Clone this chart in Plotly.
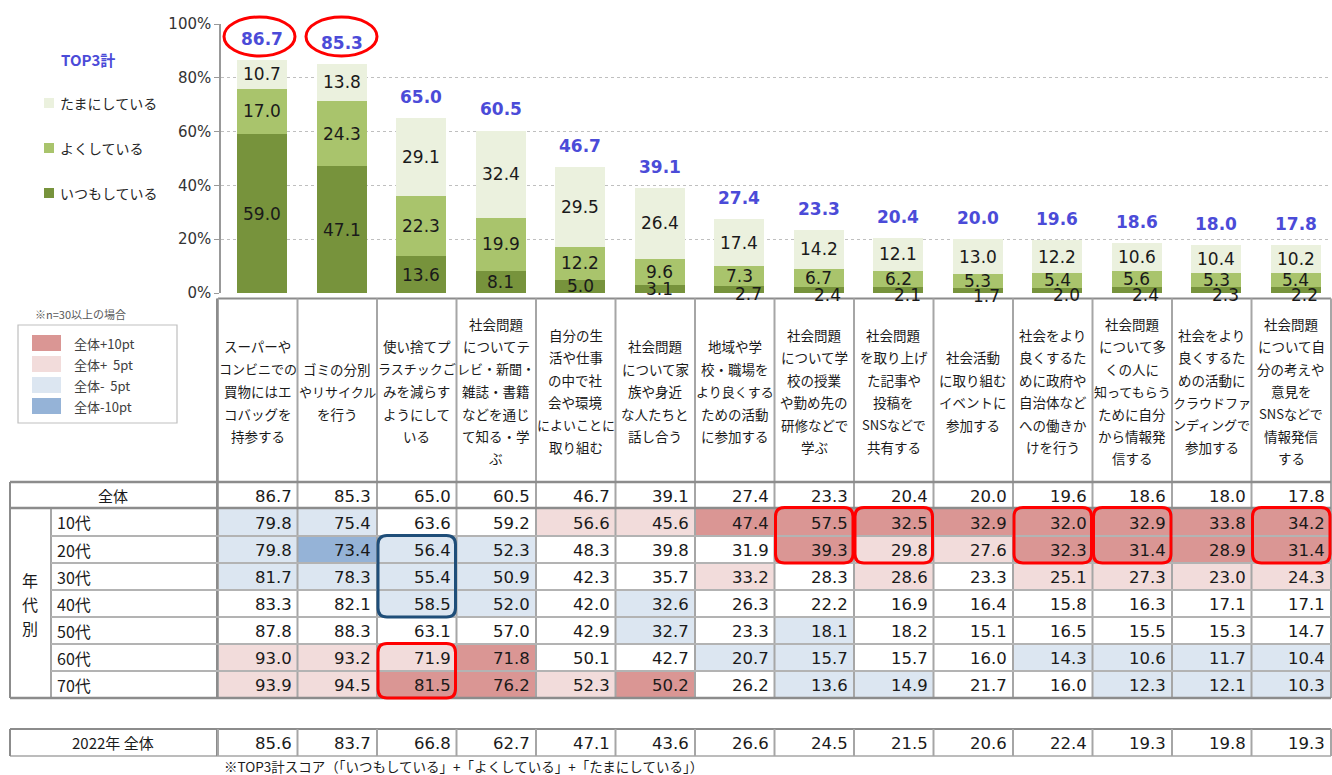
import plotly.graph_objects as go

W, H = 1332, 775

# ---------------- data ----------------
header_lines = [
    ["スーパーや", "コンビニでの", "買物にはエ", "コバッグを", "持参する"],
    ["ゴミの分別", "やリサイクル", "を行う"],
    ["使い捨てプ", "ラスチックご", "みを減らす", "ようにして", "いる"],
    ["社会問題", "についてテ", "レビ・新聞・", "雑誌・書籍", "などを通じ", "て知る・学", "ぶ"],
    ["自分の生", "活や仕事", "の中で社", "会や環境", "によいことに", "取り組む"],
    ["社会問題", "について家", "族や身近", "な人たちと", "話し合う"],
    ["地域や学", "校・職場を", "より良くする", "ための活動", "に参加する"],
    ["社会問題", "について学", "校の授業", "や勤め先の", "研修などで", "学ぶ"],
    ["社会問題", "を取り上げ", "た記事や", "投稿を", "SNSなどで", "共有する"],
    ["社会活動", "に取り組む", "イベントに", "参加する"],
    ["社会をより", "良くするた", "めに政府や", "自治体など", "への働きか", "けを行う"],
    ["社会問題", "について多", "くの人に", "知ってもらう", "ために自分", "から情報発", "信する"],
    ["社会をより", "良くするた", "めの活動に", "クラウドファ", "ンディングで", "参加する"],
    ["社会問題", "について自", "分の考えや", "意見を", "SNSなどで", "情報発信", "する"],
]

series_names = ["いつもしている", "よくしている", "たまにしている"]
itsumo = [59.0, 47.1, 13.6, 8.1, 5.0, 3.1, 2.7, 2.4, 2.1, 1.7, 2.0, 2.4, 2.3, 2.2]
yoku = [17.0, 24.3, 22.3, 19.9, 12.2, 9.6, 7.3, 6.7, 6.2, 5.3, 5.4, 5.6, 5.3, 5.4]
tamani = [10.7, 13.8, 29.1, 32.4, 29.5, 26.4, 17.4, 14.2, 12.1, 13.0, 12.2, 10.6, 10.4, 10.2]
top3 = [86.7, 85.3, 65.0, 60.5, 46.7, 39.1, 27.4, 23.3, 20.4, 20.0, 19.6, 18.6, 18.0, 17.8]

y_ticks = [0, 20, 40, 60, 80, 100]

age_groups = ["10代", "20代", "30代", "40代", "50代", "60代", "70代"]
age_10 = [79.8, 75.4, 63.6, 59.2, 56.6, 45.6, 47.4, 57.5, 32.5, 32.9, 32.0, 32.9, 33.8, 34.2]
age_20 = [79.8, 73.4, 56.4, 52.3, 48.3, 39.8, 31.9, 39.3, 29.8, 27.6, 32.3, 31.4, 28.9, 31.4]
age_30 = [81.7, 78.3, 55.4, 50.9, 42.3, 35.7, 33.2, 28.3, 28.6, 23.3, 25.1, 27.3, 23.0, 24.3]
age_40 = [83.3, 82.1, 58.5, 52.0, 42.0, 32.6, 26.3, 22.2, 16.9, 16.4, 15.8, 16.3, 17.1, 17.1]
age_50 = [87.8, 88.3, 63.1, 57.0, 42.9, 32.7, 23.3, 18.1, 18.2, 15.1, 16.5, 15.5, 15.3, 14.7]
age_60 = [93.0, 93.2, 71.9, 71.8, 50.1, 42.7, 20.7, 15.7, 15.7, 16.0, 14.3, 10.6, 11.7, 10.4]
age_70 = [93.9, 94.5, 81.5, 76.2, 52.3, 50.2, 26.2, 13.6, 14.9, 21.7, 16.0, 12.3, 12.1, 10.3]
age_values = [age_10, age_20, age_30, age_40, age_50, age_60, age_70]
total_2022 = [85.6, 83.7, 66.8, 62.7, 47.1, 43.6, 26.6, 24.5, 21.5, 20.6, 22.4, 19.3, 19.8, 19.3]

# highlight levels: 2=+10pt, 1=+5pt, -1=-5pt, -2=-10pt
hl_10 = [-1, -1, 0, 0, 1, 1, 2, 2, 2, 2, 2, 2, 2, 2]
hl_20 = [-1, -2, -1, -1, 0, 0, 0, 2, 1, 1, 2, 2, 2, 2]
hl_30 = [-1, -1, -1, -1, 0, 0, 1, 0, 1, 0, 1, 1, 1, 1]
hl_40 = [0, 0, -1, -1, 0, -1, 0, 0, 0, 0, 0, 0, 0, 0]
hl_50 = [0, 0, 0, 0, 0, -1, 0, -1, 0, 0, 0, 0, 0, 0]
hl_60 = [1, 1, 1, 2, 0, 0, -1, -1, 0, 0, -1, -1, -1, -1]
hl_70 = [1, 1, 2, 2, 1, 2, 0, -1, -1, 0, 0, -1, -1, -1]
highlights = [hl_10, hl_20, hl_30, hl_40, hl_50, hl_60, hl_70]

legend_hl = ["全体+10pt", "全体+  5pt", "全体-  5pt", "全体-10pt"]

# ---------------- styles ----------------
C_DARK = "#77933C"
C_MID = "#A9C46C"
C_LIGHT = "#EBF1DE"
C_BLUE_TXT = "#4B4BD8"
HL_COLORS = {2: "#DA9694", 1: "#F2DCDB", -1: "#DCE6F1", -2: "#95B3D7"}
JP = "Noto Sans CJK JP"
NUM = "DejaVu Sans"


def px(x):
    return x / W


def py(y):
    return 1 - y / H


col_w = 79.5
col_x0 = 218.0
col_edges = [col_x0 + col_w * i for i in range(15)]
row_edges = [482, 508, 536, 563, 590, 617, 644, 671, 698]
r22_top, r22_bot = 729, 756
bar_offset = 4.5 / col_w   # bars sit slightly right of the column centres

shapes = []
annotations = []


def hline(y, x0, x1, color="#A6A6A6", width=1.5):
    shapes.append(dict(type="line", xref="paper", yref="paper", x0=px(x0), x1=px(x1),
                       y0=py(y), y1=py(y), line=dict(color=color, width=width)))


def vline(x, y0, y1, color="#A6A6A6", width=1.5):
    shapes.append(dict(type="line", xref="paper", yref="paper", x0=px(x), x1=px(x),
                       y0=py(y0), y1=py(y1), line=dict(color=color, width=width)))


def rect(x0, y0, x1, y1, fill, line_color=None, lw=0):
    shapes.append(dict(type="rect", xref="paper", yref="paper", x0=px(x0), x1=px(x1),
                       y0=py(y1), y1=py(y0), fillcolor=fill,
                       line=dict(color=line_color or fill, width=lw), layer="below"))


def rrect(x0, y0, x1, y1, r, color, width=3):
    def p(x, y):
        return f"{px(x):.6f},{py(y):.6f}"
    path = (f"M {p(x0 + r, y0)} L {p(x1 - r, y0)} Q {p(x1, y0)} {p(x1, y0 + r)} "
            f"L {p(x1, y1 - r)} Q {p(x1, y1)} {p(x1 - r, y1)} L {p(x0 + r, y1)} "
            f"Q {p(x0, y1)} {p(x0, y1 - r)} L {p(x0, y0 + r)} Q {p(x0, y0)} {p(x0 + r, y0)} Z")
    shapes.append(dict(type="path", xref="paper", yref="paper", path=path,
                       line=dict(color=color, width=width), layer="above"))


def text(x, y, s, size=14, color="#1a1a1a", family=JP, xanchor="center", bold=False):
    if bold:
        s = f"<b>{s}</b>"
    annotations.append(dict(x=px(x), y=py(y), xref="paper", yref="paper", text=s,
                            showarrow=False, xanchor=xanchor, yanchor="middle",
                            font=dict(size=size, color=color, family=family)))


# ---------------- bars ----------------
xs = list(range(len(top3)))
fig = go.Figure()
for vals, color, name in [(itsumo, C_DARK, series_names[0]),
                          (yoku, C_MID, series_names[1]),
                          (tamani, C_LIGHT, series_names[2])]:
    fig.add_trace(go.Bar(x=xs, y=vals, name=name, marker=dict(color=color, line=dict(width=0)),
                         width=0.63, showlegend=False, hoverinfo="y"))

# segment labels
for i in xs:
    base = 0
    for vals in (itsumo, yoku, tamani):
        v = vals[i]
        xs_, ys_ = 0, 0
        if v < 3.0:
            xs_, ys_ = 9, -5
        annotations.append(dict(x=i, y=base + v / 2, xref="x", yref="y", text=f"{v:.1f}",
                                showarrow=False, xshift=xs_, yshift=ys_,
                                font=dict(size=17, color="#1a1a1a", family=NUM)))
        base += v
    annotations.append(dict(x=i, y=top3[i], xref="x", yref="y", text=f"<b>{top3[i]:.1f}</b>",
                            showarrow=False, yshift=21, yanchor="middle",
                            font=dict(size=17, color=C_BLUE_TXT, family=NUM)))

# red ellipses round the two highest totals
for x0, x1 in ((224, 295), (306, 377)):
    shapes.append(dict(type="circle", xref="paper", yref="paper", x0=px(x0), x1=px(x1),
                       y0=py(56), y1=py(17), line=dict(color="#FF0000", width=3)))

# bar legend
text(88, 59, "TOP3計", size=15, color=C_BLUE_TXT, bold=True)
for yy, col, name in [(103, C_LIGHT, series_names[2]), (148, C_MID, series_names[1]),
                      (193, C_DARK, series_names[0])]:
    rect(44, yy - 5, 54, yy + 5, col)
    text(58, yy, name, size=14, color="#262626", xanchor="left")

# ---------------- table ----------------
# cell shading
for r, hl_row in enumerate(highlights):
    for c, lvl in enumerate(hl_row):
        if lvl != 0:
            rect(col_edges[c], row_edges[r + 1], col_edges[c + 1], row_edges[r + 2], HL_COLORS[lvl])

# header texts
LS = 22.5
for c, lines in enumerate(header_lines):
    cx = (col_edges[c] + col_edges[c + 1]) / 2
    n = len(lines)
    for k, ln in enumerate(lines):
        yy = 391 + (k - (n - 1) / 2) * LS
        text(cx, yy, ln, size=13.5 if len(ln) <= 5 else 13, color="#1a1a1a")

# grid lines
G_THICK = "#8C8C8C"
hline(298.5, 218, 1331, G_THICK, 2)
for e in col_edges:
    vline(e, 298.5, 698, "#A6A6A6", 2)
vline(10, 482, 698, G_THICK, 2)
vline(51, 508, 698, "#A6A6A6", 2)
vline(217, 298.5, 698, G_THICK, 2)
hline(482, 10, 1331, G_THICK, 2.5)
hline(508, 10, 1331, G_THICK, 2.5)
for y in row_edges[2:-1]:
    hline(y, 51, 1331, "#B3B3B3", 2)
hline(698, 10, 1331, G_THICK, 2.5)

# 2022 row
hline(r22_top, 10, 1331, G_THICK, 2)
hline(r22_bot, 10, 1331, "#A6A6A6", 1.5)
vline(10, r22_top, r22_bot, G_THICK, 2)
vline(217, r22_top, r22_bot, G_THICK, 2)
for e in col_edges:
    vline(e, r22_top, r22_bot, "#A6A6A6", 2)

# row labels
text(113, (row_edges[0] + row_edges[1]) / 2, "全体", size=15)
for r, g in enumerate(age_groups):
    text(55, (row_edges[r + 1] + row_edges[r + 2]) / 2, g, size=16, xanchor="left")
text(30, 580, "年", size=16)
text(30, 604, "代", size=16)
text(30, 628, "別", size=16)
text(113, (r22_top + r22_bot) / 2, "2022年 全体", size=15)

# numbers
for c in range(14):
    xr = col_edges[c + 1] - 4
    text(xr, (row_edges[0] + row_edges[1]) / 2 + 1, f"{top3[c]:.1f}", size=16.5, family=NUM, xanchor="right")
    for r, vals in enumerate(age_values):
        text(xr, (row_edges[r + 1] + row_edges[r + 2]) / 2 + 1, f"{vals[c]:.1f}", size=16.5,
             family=NUM, xanchor="right")
    text(xr, (r22_top + r22_bot) / 2 + 1, f"{total_2022[c]:.1f}", size=16.5, family=NUM, xanchor="right")

# highlight frames
def cell_frame(c, r0, r1, color):
    rrect(col_edges[c] + 1, row_edges[r0 + 1] - 0.5, col_edges[c + 1] - 1, row_edges[r1 + 2], 9, color, 3)

cell_frame(2, 5, 6, "#FF0000")
cell_frame(2, 1, 3, "#1F4E79")
for c in (7, 8, 10, 11, 13):
    cell_frame(c, 0, 1, "#FF0000")

# shading legend
text(33, 314, "※n=30以上の場合", size=11, color="#595959", xanchor="left")
shapes.append(dict(type="rect", xref="paper", yref="paper", x0=px(18), x1=px(177),
                   y0=py(423), y1=py(325), line=dict(color="#BFBFBF", width=1.2)))
for k, (lvl, lab) in enumerate(zip([2, 1, -1, -2], legend_hl)):
    yc = 343 + k * 21
    rect(32, yc - 8, 61, yc + 8, HL_COLORS[lvl])
    text(72, yc, lab, size=13, color="#404040", xanchor="left")

# footnote
text(222, 765.5, "※TOP3計スコア（「いつもしている」+「よくしている」+「たまにしている」）",
     size=13.5, color="#1a1a1a", xanchor="left")

# ---------------- layout ----------------
fig.update_layout(
    width=W, height=H, autosize=False,
    margin=dict(l=0, r=0, t=0, b=0, pad=0),
    paper_bgcolor="white", plot_bgcolor="white",
    barmode="stack", bargap=0,
    shapes=shapes, annotations=annotations,
    font=dict(family=JP),
    xaxis=dict(domain=[px(221), px(1331)],
               range=[-0.5 + 3 / col_w - bar_offset, 13.5 - bar_offset],
               showticklabels=False, showgrid=False, zeroline=False, fixedrange=True,
               automargin=False),
    yaxis=dict(domain=[py(293), py(24)], range=[0, 100], tickvals=y_ticks,
               ticktext=[f"{v}%" for v in y_ticks], ticks="outside", ticklen=5,
               tickcolor="#999999", showline=True, linecolor="#999999", linewidth=1.5,
               showgrid=True, gridcolor="#BFBFBF", griddash="dot", gridwidth=1,
               zeroline=False, tickfont=dict(size=15, color="#333333", family=NUM),
               fixedrange=True, automargin=False),
)

post = ("document.documentElement.style.margin='0';document.body.style.margin='0';"
        "document.body.style.overflow='hidden';"
        "var gd=document.getElementById('{plot_id}');"
        "gd.style.position='fixed';gd.style.left='0px';gd.style.top='0px';")

fig.write_html("out.html", config={"displayModeBar": False}, post_script=post)
